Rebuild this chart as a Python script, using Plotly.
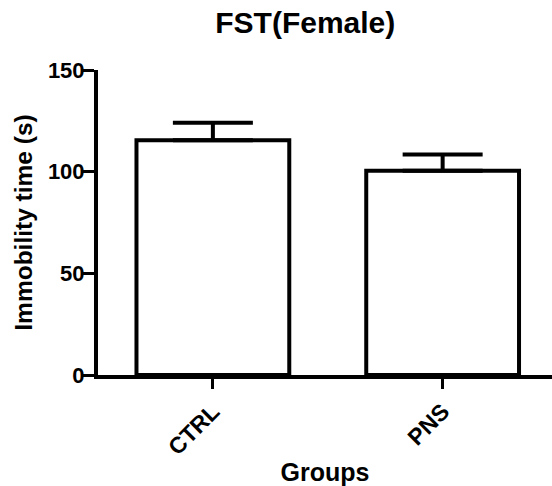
import plotly.graph_objects as go

groups = ["CTRL", "PNS"]
means = [115.5, 100.5]
sem = [8.5, 8.0]
y_ticks = [0, 50, 100, 150]

FONT = "Liberation Sans, Arial, sans-serif"

fig = go.Figure()
fig.add_trace(go.Bar(
    x=groups, y=means, width=0.665,
    marker=dict(color="white", line=dict(color="black", width=4)),
    error_y=dict(type="data", symmetric=False, array=sem, arrayminus=[0, 0],
                 color="black", thickness=4, width=40),
))

fig.update_layout(
    width=552, height=486,
    margin=dict(l=98, r=0, t=70, b=111),
    plot_bgcolor="white", paper_bgcolor="white",
    showlegend=False,
    font=dict(family=FONT, color="black"),
    title=dict(text="FST(Female)", x=0.553, xanchor="center",
               y=0.953, yanchor="middle",
               font=dict(size=30, family=FONT, color="black", weight="bold")),
    xaxis=dict(
        type="category", range=[-0.5, 1.476],
        showline=True, linecolor="black", linewidth=4,
        ticks="outside", ticklen=10, tickwidth=3, tickcolor="black",
        tickangle=-45, tickfont=dict(size=23, family=FONT, color="black", weight="bold"),
        title=dict(text="Groups", font=dict(size=25, family=FONT, color="black", weight="bold"), standoff=6),
        showgrid=False,
    ),
    yaxis=dict(
        range=[0, 150], tickvals=y_ticks,
        showline=True, linecolor="black", linewidth=4,
        ticks="outside", ticklen=11, tickwidth=3, tickcolor="black",
        ticklabelstandoff=-6,
        tickfont=dict(size=22, family=FONT, color="black", weight="bold"),
        title=dict(text="Immobility time (s)", font=dict(size=24.5, family=FONT, color="black", weight="bold"), standoff=9),
        showgrid=False, zeroline=False,
    ),
)

fig.write_html("out.html")
